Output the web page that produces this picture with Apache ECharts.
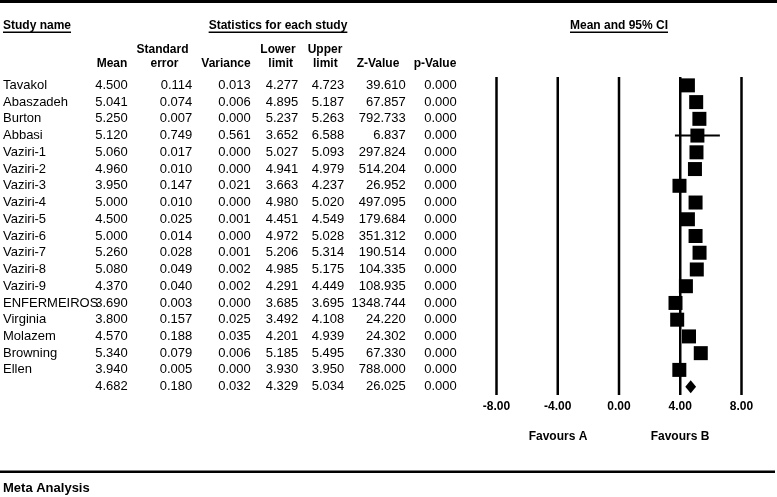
<!DOCTYPE html>
<html><head><meta charset="utf-8">
<script src="https://cdn.jsdelivr.net/npm/echarts@6/dist/echarts.min.js"></script>
<style>html,body{margin:0;padding:0;background:#fff}#c{width:777px;height:497px}</style>
</head><body><div id="c"></div>
<script>
const studies = ['Tavakol','Abaszadeh','Burton','Abbasi','Vaziri-1','Vaziri-2','Vaziri-3','Vaziri-4','Vaziri-5','Vaziri-6','Vaziri-7','Vaziri-8','Vaziri-9','ENFERMEIROS','Virginia','Molazem','Browning','Ellen'];
const means = [4.500,5.041,5.250,5.120,5.060,4.960,3.950,5.000,4.500,5.000,5.260,5.080,4.370,3.690,3.800,4.570,5.340,3.940];
const stdErrors = [0.114,0.074,0.007,0.749,0.017,0.010,0.147,0.010,0.025,0.014,0.028,0.049,0.040,0.003,0.157,0.188,0.079,0.005];
const variances = [0.013,0.006,0.000,0.561,0.000,0.000,0.021,0.000,0.001,0.000,0.001,0.002,0.002,0.000,0.025,0.035,0.006,0.000];
const lowerLimits = [4.277,4.895,5.237,3.652,5.027,4.941,3.663,4.980,4.451,4.972,5.206,4.985,4.291,3.685,3.492,4.201,5.185,3.930];
const upperLimits = [4.723,5.187,5.263,6.588,5.093,4.979,4.237,5.020,4.549,5.028,5.314,5.175,4.449,3.695,4.108,4.939,5.495,3.950];
const zValues = [39.610,67.857,792.733,6.837,297.824,514.204,26.952,497.095,179.684,351.312,190.514,104.335,108.935,1348.744,24.220,24.302,67.330,788.000];
const pValues = [0.000,0.000,0.000,0.000,0.000,0.000,0.000,0.000,0.000,0.000,0.000,0.000,0.000,0.000,0.000,0.000,0.000,0.000];
const summaryMean = 4.682, summarySE = 0.180, summaryVariance = 0.032, summaryLower = 4.329, summaryUpper = 5.034, summaryZ = 26.025, summaryP = 0.000;
const xTicks = [-8, -4, 0, 4, 8];

const FONT = '"Liberation Sans", Arial, Helvetica, sans-serif';
const nRows = studies.length + 1;

// table rows
const tableRows = studies.map((s, i) => [0, i, s, means[i], stdErrors[i], variances[i], lowerLimits[i], upperLimits[i], zValues[i], pValues[i]]);
tableRows.push([0, studies.length, '', summaryMean, summarySE, summaryVariance, summaryLower, summaryUpper, summaryZ, summaryP]);
const colRight = [127.7, 192.3, 250.7, 298.3, 344.3, 405.7, 456.7];

const studyData = studies.map((s, i) => [means[i], i, lowerLimits[i], upperLimits[i]]);

const ctx = document.createElement('canvas').getContext('2d');
function tw(t, f) { ctx.font = f; return ctx.measureText(t).width; }
const hFont = 'bold 12px ' + FONT;

function headText(t, x, y, align) {
  return { type: 'text', x: x, y: y, style: { text: t, font: hFont, fill: '#000', align: align || 'center', verticalAlign: 'middle' } };
}
function underlined(t, x, align) {
  const w = tw(t, hFont);
  const left = align === 'left' ? x : x - w / 2;
  return [headText(t, x, 26, align), { type: 'rect', shape: { x: left, y: 31.5, width: w, height: 1.5 }, style: { fill: '#000' } }];
}

const graphics = [
  { type: 'rect', shape: { x: 0, y: 0, width: 777, height: 3 }, style: { fill: '#000' } },
  { type: 'rect', shape: { x: 0, y: 470.5, width: 775, height: 2.5 }, style: { fill: '#000' } },
  { type: 'text', x: 3, y: 488, style: { text: 'Meta Analysis', font: 'bold 13px ' + FONT, fill: '#000', align: 'left', verticalAlign: 'middle' } },
  ...underlined('Study name', 3, 'left'),
  ...underlined('Statistics for each study', 278, 'center'),
  ...underlined('Mean and 95% CI', 619, 'center'),
  headText('Mean', 112, 63.3),
  headText('Standard', 162.5, 49.3), headText('error', 164.5, 63.3),
  headText('Variance', 226, 63.3),
  headText('Lower', 278, 49.3), headText('limit', 280.7, 63.3),
  headText('Upper', 325, 49.3), headText('limit', 325.3, 63.3),
  headText('Z-Value', 378, 63.3),
  headText('p-Value', 435, 63.3),
  headText('Favours A', 558, 437),
  headText('Favours B', 680, 437)
];

const chart = echarts.init(document.getElementById('c'), null, { renderer: 'canvas' });
chart.setOption({
  animation: false,
  backgroundColor: '#fff',
  grid: { left: 496.5, width: 245, top: 77, height: 318, containLabel: false, outerBoundsMode: 'none' },
  xAxis: {
    type: 'value', min: -8, max: 8, interval: 4,
    axisLine: { show: false }, axisTick: { show: false }, splitLine: { show: false },
    axisLabel: { formatter: v => v.toFixed(2), color: '#000', fontWeight: 'bold', fontSize: 12, fontFamily: FONT, margin: 6 }
  },
  yAxis: { type: 'value', min: -0.5, max: nRows - 0.5, inverse: true, show: false },
  graphic: graphics,
  series: [
    {
      type: 'custom', clip: false, silent: true,
      data: xTicks.map(v => [v, 0]),
      renderItem: (params, api) => {
        const p = api.coord([api.value(0), 0]);
        const cs = params.coordSys;
        return { type: 'line', shape: { x1: p[0], y1: cs.y, x2: p[0], y2: cs.y + cs.height }, style: { stroke: '#000', lineWidth: 2.5 } };
      }
    },
    {
      type: 'custom', clip: false, silent: true,
      data: studyData,
      renderItem: (params, api) => {
        const c = api.coord([api.value(0), api.value(1)]);
        const l = api.coord([api.value(2), api.value(1)]);
        const u = api.coord([api.value(3), api.value(1)]);
        const s = 14;
        return { type: 'group', children: [
          { type: 'line', shape: { x1: l[0], y1: c[1], x2: u[0], y2: c[1] }, style: { stroke: '#000', lineWidth: 2 } },
          { type: 'rect', shape: { x: c[0] - s / 2, y: c[1] - s / 2, width: s, height: s }, style: { fill: '#000' } }
        ]};
      }
    },
    {
      type: 'custom', clip: false, silent: true,
      data: [[summaryMean, studies.length, summaryLower, summaryUpper]],
      renderItem: (params, api) => {
        const c = api.coord([api.value(0), api.value(1)]);
        const l = api.coord([api.value(2), api.value(1)]);
        const u = api.coord([api.value(3), api.value(1)]);
        return { type: 'polygon', shape: { points: [[l[0], c[1]], [c[0], c[1] - 6.5], [u[0], c[1]], [c[0], c[1] + 6.5]] }, style: { fill: '#000' } };
      }
    },
    {
      type: 'custom', clip: false, silent: true,
      data: tableRows,
      dimensions: ['x', 'y', 'name', 'm', 'se', 'v', 'lo', 'up', 'z', 'p'],
      encode: { x: 0, y: 1 },
      renderItem: (params, api) => {
        const row = tableRows[params.dataIndex];
        const y = api.coord([0, row[1]])[1];
        const f = '13px ' + FONT;
        const kids = [{ type: 'text', style: { text: row[2], x: 3, y: y, font: f, fill: '#000', align: 'left', verticalAlign: 'middle' } }];
        for (let k = 0; k < 7; k++) {
          kids.push({ type: 'text', style: { text: row[3 + k].toFixed(3), x: colRight[k], y: y, font: f, fill: '#000', align: 'right', verticalAlign: 'middle' } });
        }
        return { type: 'group', children: kids };
      }
    }
  ]
});
</script>
</body></html>
